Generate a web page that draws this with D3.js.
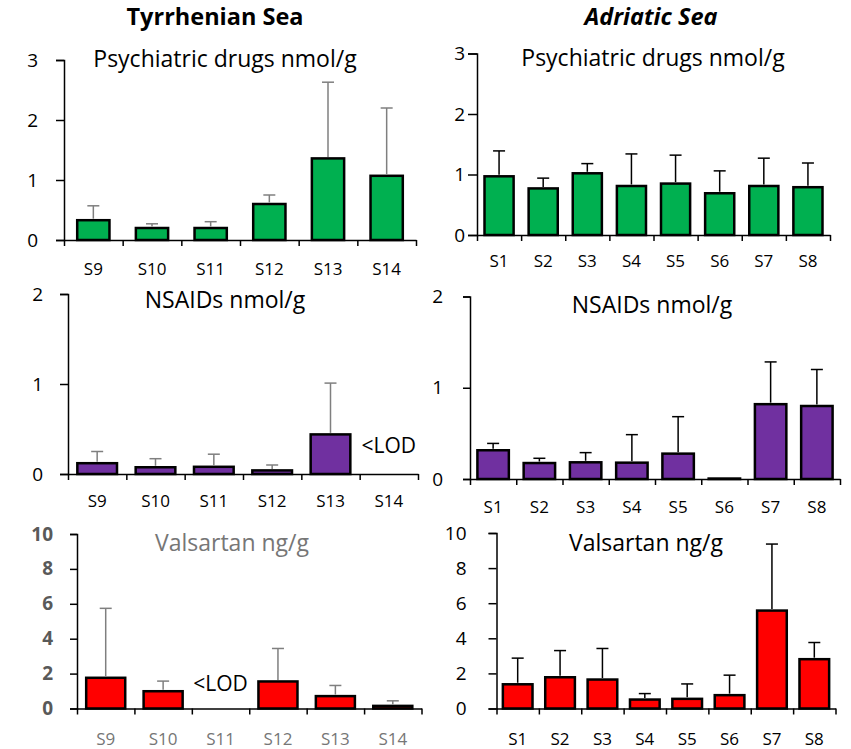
<!DOCTYPE html>
<html>
<head>
<meta charset="utf-8">
<script src="https://cdn.jsdelivr.net/npm/d3@7"></script>
<style>
    body { margin: 0; background: #fff; }
    text { font-family: "Open Sans", sans-serif; }
</style>
</head>
<body>
<svg id="chart" width="851" height="749"></svg>
<script>
// Données
const tyrSites = ["S9", "S10", "S11", "S12", "S13", "S14"];
const adrSites = ["S1", "S2", "S3", "S4", "S5", "S6", "S7", "S8"];

const tyrPsych = [0.33, 0.2, 0.2, 0.6, 1.36, 1.07];
const tyrPsychSd = [0.24, 0.07, 0.105, 0.15, 1.27, 1.13];
const adrPsych = [0.97, 0.77, 1.02, 0.81, 0.85, 0.69, 0.81, 0.79];
const adrPsychSd = [0.42, 0.17, 0.16, 0.53, 0.47, 0.37, 0.46, 0.4];

const tyrNsaids = [0.12, 0.075, 0.08, 0.04, 0.44, null];
const tyrNsaidsSd = [0.13, 0.095, 0.14, 0.06, 0.57, 0];
const adrNsaids = [0.315, 0.175, 0.183, 0.179, 0.278, 0.005, 0.82, 0.8];
const adrNsaidsSd = [0.075, 0.052, 0.106, 0.307, 0.405, 0, 0.463, 0.4];

const tyrValsartan = [1.76, 0.99, null, 1.55, 0.71, 0.15];
const tyrValsartanSd = [3.98, 0.58, 0, 1.89, 0.61, 0.29];
const adrValsartan = [1.38, 1.78, 1.65, 0.51, 0.55, 0.76, 5.58, 2.81];
const adrValsartanSd = [1.49, 1.52, 1.77, 0.34, 0.85, 1.14, 3.79, 0.95];

const psychTicks = [0, 1, 2, 3];
const nsaidsTicks = [0, 1, 2];
const valsartanTicks = [0, 2, 4, 6, 8, 10];

const svg = d3.select("#chart");

// titres des colonnes
svg.append("text")
    .attr("x", 215).attr("y", 25)
    .attr("text-anchor", "middle")
    .style("font-size", "23.5px").style("font-weight", "bold")
    .text("Tyrrhenian Sea");
svg.append("text")
    .attr("x", 651).attr("y", 25)
    .attr("text-anchor", "middle")
    .style("font-size", "23.5px").style("font-weight", "bold").style("font-style", "italic")
    .text("Adriatic Sea");

function panel(o) {
    const g = svg.append("g");
    const data = o.sites.map((s, i) => ({ site: s, v: o.values[i], sd: o.sd[i] }));

    const x = d3.scaleBand()
        .domain(o.sites)
        .range([o.left, o.right])
        .paddingInner(o.pad)
        .paddingOuter(o.pad / 2);

    const xEdges = d3.scaleLinear()
        .domain([0, o.sites.length])
        .range([o.left, o.right]);

    const y = d3.scaleLinear()
        .domain([0, d3.max(o.ticks)])
        .range([o.zero, o.top]);

    // axe Y
    const ya = g.append("g")
        .attr("transform", "translate(" + o.left + ",0)")
        .call(d3.axisLeft(y).tickValues(o.ticks).tickFormat(d3.format("d"))
            .tickSizeOuter(0).tickSize(o.ySize).tickPadding(o.yPad));
    ya.select(".domain").attr("stroke-width", 1.5);
    ya.selectAll(".tick line").attr("stroke-width", 1.5);
    ya.selectAll("text")
        .style("font-size", "19px")
        .style("font-family", "'Open Sans', sans-serif")
        .style("font-weight", o.yBold ? "bold" : "normal")
        .attr("fill", o.yColor || "#000");

    // axe X : traits entre les barres
    const xa = g.append("g")
        .attr("transform", "translate(0," + o.zero + ")")
        .call(d3.axisBottom(xEdges).tickValues(d3.range(o.sites.length + 1)).tickFormat("").tickSize(6).tickSizeOuter(0));
    xa.select(".domain").attr("stroke-width", 1.5);
    xa.selectAll(".tick line").attr("stroke-width", 1.5);

    // étiquettes des sites
    const xl = g.append("g")
        .attr("transform", "translate(0," + o.zero + ")")
        .call(d3.axisBottom(x).tickSize(0).tickPadding(o.xGap));
    xl.select(".domain").remove();
    xl.selectAll("text")
        .style("font-size", "17px")
        .style("font-family", "'Open Sans', sans-serif")
        .attr("fill", o.xColor || "#000");

    // barres
    const bars = data.filter(d => d.v !== null);
    g.selectAll("rect.bar")
        .data(bars)
        .enter()
        .append("rect")
        .attr("class", "bar")
        .attr("x", d => x(d.site))
        .attr("y", d => y(d.v))
        .attr("width", x.bandwidth())
        .attr("height", d => y(0) - y(d.v))
        .style("fill", o.color)
        .style("stroke", "#000")
        .style("stroke-width", 2.5);

    // barres d'erreur
    const errs = bars.filter(d => d.sd > 0);
    const cx = d => x(d.site) + x.bandwidth() / 2;
    g.selectAll("line.err")
        .data(errs)
        .enter()
        .append("line")
        .attr("x1", cx).attr("x2", cx)
        .attr("y1", d => y(d.v) - 1.5)
        .attr("y2", d => y(d.v + d.sd))
        .style("stroke", o.errColor)
        .style("stroke-width", 1.5);
    g.selectAll("line.cap")
        .data(errs)
        .enter()
        .append("line")
        .attr("x1", d => cx(d) - 6).attr("x2", d => cx(d) + 6)
        .attr("y1", d => y(d.v + d.sd))
        .attr("y2", d => y(d.v + d.sd))
        .style("stroke", o.errColor)
        .style("stroke-width", 1.5);

    // <LOD
    data.filter(d => d.v === null).forEach(d => {
        g.append("text")
            .attr("x", x(d.site) + x.bandwidth() / 2)
            .attr("y", o.zero - o.lodGap)
            .attr("text-anchor", "middle")
            .style("font-size", "21px")
            .text("<LOD");
    });

    // sous-titre
    g.append("text")
        .attr("x", o.subX).attr("y", o.subY)
        .attr("text-anchor", "middle")
        .style("font-size", "23px")
        .attr("fill", o.subColor || "#000")
        .text(o.title);
}

panel({ sites: tyrSites, values: tyrPsych, sd: tyrPsychSd, ticks: psychTicks,
    title: "Psychiatric drugs nmol/g", color: "#00b050", errColor: "#7f7f7f",
    left: 64, right: 416, zero: 240, top: 60, pad: 0.45,
    ySize: 8, yPad: 18, xGap: 23, subX: 225, subY: 67 });

panel({ sites: adrSites, values: adrPsych, sd: adrPsychSd, ticks: psychTicks,
    title: "Psychiatric drugs nmol/g", color: "#00b050", errColor: "#000",
    left: 477, right: 830, zero: 235, top: 53.5, pad: 0.34,
    ySize: 9, yPad: 3, xGap: 20, subX: 653, subY: 66 });

panel({ sites: tyrSites, values: tyrNsaids, sd: tyrNsaidsSd, ticks: nsaidsTicks,
    title: "NSAIDs nmol/g", color: "#7030a0", errColor: "#7f7f7f",
    left: 68, right: 418, zero: 474, top: 294, pad: 0.32,
    ySize: 8, yPad: 17, xGap: 21, subX: 225, subY: 308, lodGap: 21 });

panel({ sites: adrSites, values: adrNsaids, sd: adrNsaidsSd, ticks: nsaidsTicks,
    title: "NSAIDs nmol/g", color: "#7030a0", errColor: "#000",
    left: 470, right: 840, zero: 479, top: 296.5, pad: 0.32,
    ySize: 7, yPad: 20, xGap: 22, subX: 652, subY: 313 });

panel({ sites: tyrSites, values: tyrValsartan, sd: tyrValsartanSd, ticks: valsartanTicks,
    title: "Valsartan ng/g", color: "#ff0000", errColor: "#7f7f7f",
    left: 77, right: 421.5, zero: 708.5, top: 534, pad: 0.32,
    ySize: 7, yPad: 17, xGap: 24, subX: 232, subY: 551, lodGap: 18,
    yBold: true, yColor: "#595959", xColor: "#767676", subColor: "#767676" });

panel({ sites: adrSites, values: adrValsartan, sd: adrValsartanSd, ticks: valsartanTicks,
    title: "Valsartan ng/g", color: "#ff0000", errColor: "#000",
    left: 496.5, right: 835.5, zero: 708.5, top: 533, pad: 0.3,
    ySize: 8, yPad: 22, xGap: 24, subX: 646, subY: 551 });
</script>
</body>
</html>
